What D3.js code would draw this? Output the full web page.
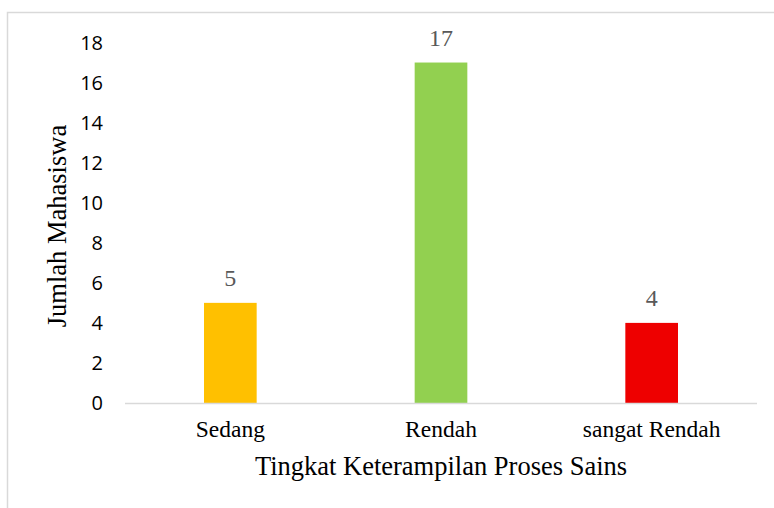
<!DOCTYPE html>
<html><head><meta charset="utf-8">
<script src="https://cdn.jsdelivr.net/npm/d3@7/dist/d3.min.js"></script>
<style>body{margin:0;background:#fff}</style></head>
<body><script>
const categories = ["Sedang", "Rendah", "sangat Rendah"];
const values = [5, 17, 4];
const colors = ["#FFC000", "#92D050", "#EE0000"];
const yTicks = [0, 2, 4, 6, 8, 10, 12, 14, 16, 18];

const W = 774, H = 508;
const svg = d3.select("body").append("svg").attr("width", W).attr("height", H);
svg.append("rect").attr("x", 7.5).attr("y", 12.5).attr("width", 780).attr("height", 510)
  .attr("fill", "#fff").attr("stroke", "#d9d9d9").attr("stroke-width", 1.5);

const x = d3.scaleBand().domain(categories).range([125, 757]).paddingInner(0.75).paddingOuter(0.375);
const y = d3.scaleLinear().domain([0, 18]).range([403, 42.5]);

svg.selectAll(".ytick").data(yTicks).enter().append("text")
  .attr("x", 103).attr("y", d => y(d)).attr("dy", "0.36em").attr("text-anchor", "end")
  .attr("font-family", "Open Sans, sans-serif").attr("font-size", 20).attr("fill", "#000")
  .text(d => d);

svg.selectAll(".bar").data(values).enter().append("rect")
  .attr("x", (d, i) => x(categories[i])).attr("width", x.bandwidth())
  .attr("y", d => y(d)).attr("height", d => y(0) - y(d))
  .attr("fill", (d, i) => colors[i]);

svg.append("line").attr("x1", 125).attr("x2", 757).attr("y1", y(0) + 0.5).attr("y2", y(0) + 0.5)
  .attr("stroke", "#d9d9d9").attr("stroke-width", 1.5);

svg.selectAll(".val").data(values).enter().append("text")
  .attr("x", (d, i) => x(categories[i]) + x.bandwidth() / 2).attr("y", d => y(d) - 17)
  .attr("text-anchor", "middle").attr("font-family", "Liberation Serif, serif").attr("font-size", 24)
  .attr("fill", "#595959").text(d => d);

svg.selectAll(".cat").data(categories).enter().append("text")
  .attr("x", d => x(d) + x.bandwidth() / 2).attr("y", 437)
  .attr("text-anchor", "middle").attr("font-family", "Liberation Serif, serif").attr("font-size", 23.5)
  .attr("fill", "#000").text(d => d);

svg.append("text").attr("x", 441).attr("y", 475).attr("text-anchor", "middle")
  .attr("font-family", "Liberation Serif, serif").attr("font-size", 26.5).attr("fill", "#000")
  .text("Tingkat Keterampilan Proses Sains");

svg.append("text").attr("transform", "translate(66,226) rotate(-90)").attr("text-anchor", "middle")
  .attr("font-family", "Liberation Serif, serif").attr("font-size", 26.5).attr("fill", "#000")
  .text("Jumlah Mahasiswa");
</script></body></html>
